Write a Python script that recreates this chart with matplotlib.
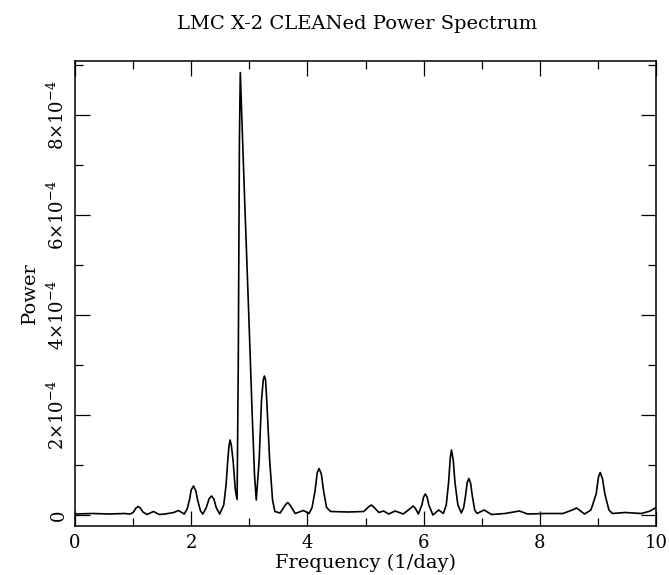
import matplotlib
matplotlib.use("Agg")
import matplotlib.pyplot as plt
import numpy as np
from matplotlib.ticker import MultipleLocator

plt.rcParams["font.family"] = "DejaVu Serif"
plt.rcParams["mathtext.fontset"] = "dejavuserif"

# Spectrum: frequency (1/day), power (units of 1e-4)
freq = [
    0.00, 0.30, 0.60, 0.85, 0.95, 1.00, 1.05, 1.09, 1.13, 1.17, 1.24, 1.35,
    1.45, 1.55, 1.70, 1.78, 1.88, 1.93, 1.97, 2.00, 2.04, 2.08, 2.11, 2.16,
    2.20, 2.26, 2.31, 2.35, 2.39, 2.43, 2.49, 2.56, 2.60, 2.63, 2.65, 2.67,
    2.69, 2.72, 2.76, 2.79, 2.81, 2.83, 2.845, 2.92, 3.00, 3.05, 3.09, 3.12,
    3.17, 3.21, 3.24, 3.26, 3.28, 3.30, 3.35, 3.40, 3.44, 3.53, 3.62, 3.66,
    3.70, 3.79, 3.93, 4.03, 4.08, 4.13, 4.17, 4.20, 4.24, 4.28, 4.33, 4.40,
    4.70, 4.97, 5.05, 5.10, 5.15, 5.23, 5.31, 5.40, 5.51, 5.65, 5.78, 5.82,
    5.86, 5.91, 5.97, 6.00, 6.03, 6.06, 6.09, 6.16, 6.26, 6.34, 6.39, 6.43,
    6.46, 6.48, 6.51, 6.54, 6.59, 6.65, 6.69, 6.72, 6.75, 6.78, 6.81, 6.84,
    6.88, 6.92, 7.04, 7.17, 7.40, 7.65, 7.79, 8.10, 8.40, 8.58, 8.63, 8.68,
    8.77, 8.88, 8.97, 9.01, 9.04, 9.08, 9.12, 9.19, 9.25, 9.47, 9.75, 9.90,
    10.00,
]
power_e4 = [
    0.02, 0.03, 0.02, 0.03, 0.02, 0.05, 0.14, 0.17, 0.13, 0.06, 0.01, 0.07,
    0.01, 0.02, 0.05, 0.09, 0.02, 0.12, 0.30, 0.50, 0.58, 0.48, 0.30, 0.08,
    0.02, 0.15, 0.33, 0.38, 0.32, 0.15, 0.02, 0.20, 0.60, 1.10, 1.38, 1.50,
    1.40, 1.10, 0.50, 0.31, 3.00, 7.50, 8.85, 6.30, 3.70, 2.00, 0.80, 0.30,
    1.10, 2.30, 2.70, 2.78, 2.70, 2.30, 1.10, 0.30, 0.07, 0.04, 0.20, 0.25,
    0.20, 0.03, 0.09, 0.03, 0.15, 0.47, 0.85, 0.93, 0.82, 0.47, 0.15, 0.07,
    0.06, 0.07, 0.16, 0.20, 0.15, 0.05, 0.08, 0.02, 0.08, 0.02, 0.14, 0.18,
    0.13, 0.02, 0.20, 0.36, 0.42, 0.36, 0.20, 0.00, 0.10, 0.03, 0.20, 0.65,
    1.15, 1.30, 1.10, 0.65, 0.20, 0.04, 0.15, 0.37, 0.65, 0.73, 0.63, 0.37,
    0.10, 0.03, 0.10, 0.01, 0.03, 0.08, 0.02, 0.03, 0.03, 0.11, 0.14, 0.10,
    0.02, 0.10, 0.42, 0.76, 0.85, 0.72, 0.42, 0.10, 0.03, 0.05, 0.03, 0.08,
    0.15,
]

x_ticks = [0, 2, 4, 6, 8, 10]
y_ticks = [0, 2e-4, 4e-4, 6e-4, 8e-4]
y_labels = ["0", r"2$\times$10$^{-4}$", r"4$\times$10$^{-4}$",
            r"6$\times$10$^{-4}$", r"8$\times$10$^{-4}$"]

power = np.array(power_e4) * 1e-4

fig = plt.figure(figsize=(6.69, 5.75), dpi=100)
ax = fig.add_axes([75 / 669, 1 - 526 / 575, 581 / 669, 465 / 575])
ax.plot(freq, power, color="black", lw=1.2)

ax.set_xlim(0, 10)
ax.set_ylim(-0.22e-4, 9.08e-4)
ax.set_xticks(x_ticks)
ax.set_xticklabels([str(t) for t in x_ticks])
ax.xaxis.set_minor_locator(MultipleLocator(1))
ax.set_yticks(y_ticks)
ax.set_yticklabels(y_labels, rotation=90, va="center")
ax.yaxis.set_minor_locator(MultipleLocator(1e-4))
ax.tick_params(which="both", direction="in", top=True, right=True,
               labelsize=13, width=0.9)
ax.tick_params(which="major", length=11)
ax.tick_params(which="minor", length=6)
ax.tick_params(axis="x", pad=6)
ax.tick_params(axis="y", pad=5)
for s in ax.spines.values():
    s.set_linewidth(1.1)

ax.set_xlabel("Frequency (1/day)", fontsize=14, labelpad=1)
ax.set_ylabel("Power", fontsize=14, labelpad=6)
fig.text(357 / 669, 1 - 24 / 575, "LMC X-2 CLEANed Power Spectrum",
         ha="center", va="center", fontsize=14)

fig.savefig("out.png", dpi=100)
